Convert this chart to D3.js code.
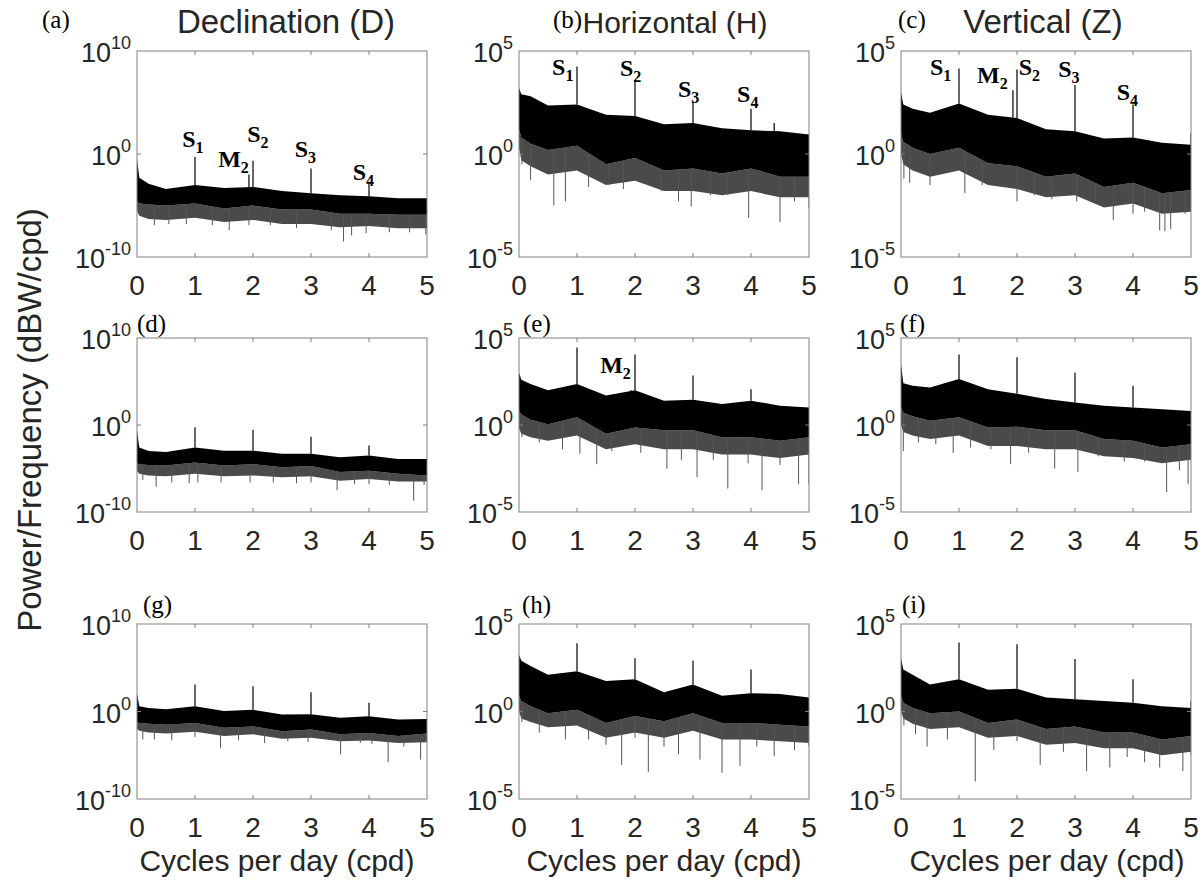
<!DOCTYPE html>
<html>
<head>
<meta charset="utf-8">
<script src="https://cdn.jsdelivr.net/npm/d3@7"></script>
<style>
  body { margin: 0; background: #fff; }
  text { font-family: "Liberation Sans", Arial, sans-serif; fill: #262626; }
  .serif { font-family: "Liberation Serif", "Times New Roman", serif; fill: #000; }
</style>
</head>
<body>
<svg id="fig" width="1203" height="883"></svg>
<script>
const freq = [0, 0.04, 0.2, 0.5, 1, 1.5, 2, 2.5, 3, 3.5, 4, 4.5, 5];

// all power values below are log10(power)
// (a) D, row 1
const topA    = [-0.5, -2.3, -2.9, -3.4, -3.0, -3.3, -3.2, -3.6, -3.8, -4.0, -4.1, -4.3, -4.3];
const lowA    = [-4.6, -4.8, -4.9, -5.0, -4.8, -5.3, -5.0, -5.4, -5.4, -5.8, -5.8, -5.9, -5.9];
const fringeA = [-5.5, -6.0, -6.3, -6.4, -6.2, -6.6, -6.4, -6.8, -6.8, -7.1, -7.0, -7.2, -7.2];
const peaksA  = [[1, -0.3], [1.93, -2.0], [2, -0.65], [3, -1.4], [4, -2.7]];
const dipsA   = [[0.3, -6.9], [0.55, -6.8], [0.85, -6.8], [1.3, -6.9], [1.59, -7.4], [1.93, -6.9], [2.3, -6.9],
                 [2.75, -7.2], [3.35, -7.4], [3.56, -8.5], [3.7, -7.9], [3.95, -7.7], [4.35, -7.6], [4.7, -7.6], [4.98, -7.8]];
// (b) H, row 1
const topB    = [3.2, 2.9, 2.8, 2.35, 2.4, 1.9, 1.85, 1.45, 1.5, 1.25, 1.15, 1.1, 0.95];
const lowB    = [1.2, 0.8, 0.5, 0.2, 0.4, -0.5, -0.2, -0.8, -0.7, -0.95, -0.7, -1.1, -1.1];
const fringeB = [0.3, -0.3, -0.6, -1.0, -0.8, -1.5, -1.3, -1.8, -1.8, -2.0, -1.8, -2.1, -2.1];
const peaksB  = [[1, 4.25], [2, 3.6], [3, 2.55], [4, 2.2], [4.4, 1.5]];
const dipsB   = [[0.05, -0.5], [0.2, -1.25], [0.6, -2.5], [0.8, -2.3], [1.2, -1.6], [1.55, -1.5], [1.8, -1.7], [2.45, -1.8],
                 [2.75, -2.3], [2.97, -2.55], [3.3, -2.0], [3.6, -2.0], [3.96, -3.1], [4.5, -3.3], [4.75, -2.3], [5.0, -2.6]];
// (c) Z, row 1
const topC    = [3.0, 2.4, 2.2, 2.0, 2.45, 1.9, 1.75, 1.2, 1.1, 0.75, 0.8, 0.55, 0.45];
const lowC    = [1.0, 0.6, 0.3, 0.0, 0.3, -0.45, -0.6, -1.1, -0.95, -1.6, -1.4, -1.9, -1.75];
const fringeC = [0.0, -0.5, -0.8, -1.1, -0.8, -1.5, -1.7, -2.1, -2.0, -2.6, -2.4, -2.9, -2.8];
const peaksC  = [[1, 4.15], [1.93, 3.1], [2, 4.1], [3, 3.35], [4, 2.4], [5, 1.0]];
const dipsC   = [[0.05, -1.2], [0.15, -1.4], [0.5, -1.5], [1.1, -1.9], [1.4, -1.5], [2.0, -2.3], [2.3, -2.0], [2.6, -2.2],
                 [3.03, -2.3], [3.35, -2.4], [3.66, -3.2], [4.0, -2.9], [4.2, -2.8], [4.46, -3.7], [4.55, -3.75], [4.65, -3.65], [4.9, -2.9]];
// (d) D, row 2
const topD    = [-0.65, -2.6, -3.0, -3.1, -2.6, -2.95, -2.95, -3.3, -3.3, -3.7, -3.5, -3.9, -3.9];
const lowD    = [-4.4, -4.5, -4.6, -4.65, -4.3, -4.65, -4.5, -4.85, -4.7, -5.4, -5.25, -5.6, -5.8];
const fringeD = [-5.3, -5.6, -5.8, -5.9, -5.6, -5.9, -5.8, -6.0, -5.9, -6.4, -6.2, -6.5, -6.5];
const peaksD  = [[1, -0.25], [2, -0.55], [3, -1.35], [4, -2.35]];
const dipsD   = [[0.1, -6.3], [0.33, -7.1], [0.6, -6.6], [0.9, -6.7], [1.05, -6.6], [1.45, -6.6], [1.95, -6.6], [2.35, -6.6],
                 [2.75, -6.7], [3.0, -6.6], [3.45, -7.5], [3.75, -6.8], [4.0, -6.8], [4.35, -6.9], [4.77, -8.7], [4.95, -6.9]];
// (e) H, row 2
const topE    = [3.0, 2.6, 2.35, 2.0, 2.35, 1.7, 2.0, 1.4, 1.45, 1.2, 1.4, 1.1, 1.0];
const lowE    = [0.8, 0.6, 0.3, 0.05, 0.45, -0.5, -0.15, -0.3, -0.3, -0.7, -0.7, -0.9, -0.7];
const fringeE = [-0.2, -0.5, -0.7, -0.9, -0.6, -1.4, -1.1, -1.4, -1.4, -1.7, -1.7, -1.9, -1.7];
const peaksE  = [[1, 4.45], [1.93, 2.0], [2, 4.05], [3, 2.85], [4, 2.05]];
const dipsE   = [[0.05, -0.7], [0.35, -1.0], [0.75, -1.4], [1.05, -1.65], [1.34, -2.25], [1.6, -1.5], [2.1, -1.6], [2.55, -2.5],
                 [2.8, -2.0], [3.07, -3.0], [3.35, -2.0], [3.6, -3.65], [3.95, -2.2], [4.19, -3.75], [4.5, -2.3], [4.82, -3.4], [5.0, -3.4]];
// (f) Z, row 2
const topF    = [3.5, 2.4, 2.25, 2.15, 2.65, 2.05, 1.8, 1.5, 1.3, 1.1, 1.0, 0.9, 0.8];
const lowF    = [1.0, 0.7, 0.5, 0.25, 0.45, -0.15, -0.1, -0.3, -0.3, -0.8, -0.9, -1.3, -1.1];
const fringeF = [0.0, -0.4, -0.6, -0.8, -0.6, -1.2, -1.2, -1.4, -1.4, -1.8, -1.9, -2.2, -2.0];
const peaksF  = [[1, 4.05], [2, 3.9], [3, 3.0], [4, 2.25]];
const dipsF   = [[0.04, -1.5], [0.3, -1.0], [0.6, -1.1], [0.9, -1.6], [1.2, -1.3], [1.55, -1.4], [1.89, -2.25], [2.2, -1.6],
                 [2.65, -2.5], [3.05, -2.7], [3.4, -1.8], [3.85, -2.1], [4.2, -2.1], [4.58, -3.85], [4.8, -2.6], [4.95, -3.4]];
// (g) D, row 3
const topG    = [2.1, 0.6, 0.4, 0.25, 0.6, 0.05, 0.2, -0.35, -0.3, -0.7, -0.55, -0.9, -0.85];
const lowG    = [-1.2, -1.3, -1.4, -1.5, -1.3, -1.85, -1.7, -2.25, -2.05, -2.6, -2.45, -2.8, -2.5];
const fringeG = [-2.0, -2.2, -2.4, -2.5, -2.3, -2.8, -2.6, -3.1, -3.0, -3.4, -3.3, -3.6, -3.5];
const peaksG  = [[1, 3.1], [2, 2.9], [3, 2.2], [4, 1.0]];
const dipsG   = [[0.1, -3.2], [0.3, -3.2], [0.6, -3.3], [1.0, -2.9], [1.44, -4.15], [1.75, -3.3], [2.2, -3.6], [2.6, -3.4],
                 [2.95, -3.5], [3.51, -4.9], [3.85, -3.6], [4.05, -3.7], [4.33, -5.8], [4.6, -4.0], [4.89, -5.5]];
// (h) H, row 3
const topH    = [3.25, 2.9, 2.6, 2.1, 2.3, 1.75, 1.85, 1.1, 1.55, 0.9, 1.05, 1.0, 0.8];
const lowH    = [0.9, 0.6, 0.3, -0.1, 0.1, -0.65, -0.25, -0.55, -0.1, -0.65, -0.65, -0.75, -0.85];
const fringeH = [0.0, -0.4, -0.6, -0.9, -0.8, -1.5, -1.2, -1.5, -1.1, -1.6, -1.6, -1.7, -1.8];
const peaksH  = [[1, 3.9], [2, 3.05], [3, 2.9], [4, 2.4]];
const dipsH   = [[0.05, -0.6], [0.35, -1.2], [0.8, -1.6], [1.2, -1.6], [1.5, -1.9], [1.77, -3.05], [2.0, -1.5], [2.23, -3.45],
                 [2.5, -2.0], [2.75, -2.45], [3.12, -2.75], [3.5, -3.5], [3.81, -3.1], [4.1, -2.0], [4.4, -2.55], [4.75, -2.2], [5.0, -2.0]];
// (i) Z, row 3
const topI    = [3.05, 2.4, 2.1, 1.55, 1.85, 1.25, 1.3, 0.8, 0.7, 0.6, 0.5, 0.3, 0.2];
const lowI    = [0.9, 0.5, 0.2, -0.1, 0.0, -0.65, -0.45, -1.0, -0.85, -1.2, -1.2, -1.6, -1.4];
const fringeI = [0.0, -0.4, -0.7, -1.0, -0.9, -1.5, -1.4, -1.9, -1.8, -2.1, -2.1, -2.5, -2.3];
const peaksI  = [[1, 3.95], [2, 3.85], [3, 3.0], [4, 1.85], [5, 0.6]];
const dipsI   = [[0.05, -0.8], [0.25, -1.3], [0.45, -2.0], [0.8, -1.6], [1.28, -4.0], [1.6, -2.2], [2.0, -1.7], [2.4, -3.05],
                 [2.8, -2.3], [3.2, -3.4], [3.6, -3.2], [3.9, -2.6], [4.2, -2.9], [4.46, -3.2], [4.86, -3.4], [5.0, -2.5]];

// tidal line labels: [name, subscript, cpd, log10 power] (text position)
const notesA = [['S', '1', 0.78, 0.68], ['M', '2', 1.40, -1.26], ['S', '2', 1.90, 1.17], ['S', '3', 2.72, -0.29], ['S', '4', 3.72, -2.52]];
const notesB = [['S', '1', 0.57, 3.83], ['S', '2', 1.74, 3.79], ['S', '3', 2.74, 2.77], ['S', '4', 3.76, 2.52]];
const notesC = [['S', '1', 0.50, 3.83], ['M', '2', 1.31, 3.45], ['S', '2', 2.03, 3.83], ['S', '3', 2.71, 3.74], ['S', '4', 3.72, 2.62]];
const notesE = [['M', '2', 1.40, 2.99]];

const columnTitles = ['Declination (D)', 'Horizontal (H)', 'Vertical (Z)'];
const xTicks = [0, 1, 2, 3, 4, 5];
const yExtent = [[-10, 10], [-5, 5], [-5, 5]];   // log10 limits per column

// layout
const colX = [[137, 427], [519, 809], [901, 1191]];
const rowY = [[51, 257], [338, 512], [624, 799]];
const titleX = [286, 675, 1043];
const titleSize = [33, 30, 33];
const labelPos = [[42, 28], [553, 28], [898, 28], [137, 332], [523, 332], [900, 332], [143, 613], [522, 613], [902, 613]];

const panels = [
  { name: '(a)', col: 0, row: 0, top: topA, low: lowA, fringe: fringeA, peaks: peaksA, dips: dipsA, notes: notesA },
  { name: '(b)', col: 1, row: 0, top: topB, low: lowB, fringe: fringeB, peaks: peaksB, dips: dipsB, notes: notesB },
  { name: '(c)', col: 2, row: 0, top: topC, low: lowC, fringe: fringeC, peaks: peaksC, dips: dipsC, notes: notesC },
  { name: '(d)', col: 0, row: 1, top: topD, low: lowD, fringe: fringeD, peaks: peaksD, dips: dipsD, notes: [] },
  { name: '(e)', col: 1, row: 1, top: topE, low: lowE, fringe: fringeE, peaks: peaksE, dips: dipsE, notes: notesE },
  { name: '(f)', col: 2, row: 1, top: topF, low: lowF, fringe: fringeF, peaks: peaksF, dips: dipsF, notes: [] },
  { name: '(g)', col: 0, row: 2, top: topG, low: lowG, fringe: fringeG, peaks: peaksG, dips: dipsG, notes: [] },
  { name: '(h)', col: 1, row: 2, top: topH, low: lowH, fringe: fringeH, peaks: peaksH, dips: dipsH, notes: [] },
  { name: '(i)', col: 2, row: 2, top: topI, low: lowI, fringe: fringeI, peaks: peaksI, dips: dipsI, notes: [] }
];

const svg = d3.select('#fig');
const defs = svg.append('defs');

const pow = v => Math.pow(10, v);

panels.forEach((p, k) => {
  const [x0, x1] = colX[p.col];
  const [y0, y1] = rowY[p.row];
  const [lo, hi] = yExtent[p.col];

  const x = d3.scaleLinear().domain([0, 5]).range([x0, x1]);
  const y = d3.scaleLog().domain([pow(lo), pow(hi)]).range([y1, y0]);
  const topAt = d3.scaleLinear().domain(freq).range(p.top);
  const lowAt = d3.scaleLinear().domain(freq).range(p.low);

  defs.append('clipPath').attr('id', 'clip' + k)
    .append('rect').attr('x', x0).attr('y', y0).attr('width', x1 - x0).attr('height', y1 - y0);

  const g = svg.append('g');
  const plot = g.append('g').attr('clip-path', `url(#clip${k})`);

  // grey fringe below the dense band
  plot.append('path')
    .datum(freq)
    .attr('fill', '#4a4a4a')
    .attr('d', d3.area()
      .x(d => x(d))
      .y0((d, i) => y(pow(p.fringe[i])))
      .y1((d, i) => y(pow(p.low[i]))));

  // dips reaching further down
  plot.selectAll('.dip').data(p.dips).enter().append('line')
    .attr('x1', d => x(d[0])).attr('x2', d => x(d[0]))
    .attr('y1', d => y(pow(lowAt(d[0]))))
    .attr('y2', d => y(pow(d[1])))
    .attr('stroke', '#555').attr('stroke-width', 1);

  // dense black band
  plot.append('path')
    .datum(freq)
    .attr('fill', '#000')
    .attr('d', d3.area()
      .x(d => x(d))
      .y0((d, i) => y(pow(p.low[i])))
      .y1((d, i) => y(pow(p.top[i]))));

  // spectral lines
  plot.selectAll('.peak').data(p.peaks).enter().append('line')
    .attr('x1', d => x(d[0])).attr('x2', d => x(d[0]))
    .attr('y1', d => y(pow(topAt(d[0]))))
    .attr('y2', d => y(pow(d[1])))
    .attr('stroke', '#000').attr('stroke-width', 1.2);

  // box and inward ticks
  g.append('rect')
    .attr('x', x0).attr('y', y0).attr('width', x1 - x0).attr('height', y1 - y0)
    .attr('fill', 'none').attr('stroke', '#808080').attr('stroke-width', 1);
  xTicks.slice(1, -1).forEach(t => {
    g.append('line').attr('x1', x(t)).attr('x2', x(t)).attr('y1', y1).attr('y2', y1 - 4).attr('stroke', '#808080');
    g.append('line').attr('x1', x(t)).attr('x2', x(t)).attr('y1', y0).attr('y2', y0 + 4).attr('stroke', '#808080');
  });
  g.append('line').attr('x1', x0).attr('x2', x0 + 4).attr('y1', y(1)).attr('y2', y(1)).attr('stroke', '#808080');
  g.append('line').attr('x1', x1).attr('x2', x1 - 4).attr('y1', y(1)).attr('y2', y(1)).attr('stroke', '#808080');

  // x tick labels
  g.selectAll('.xt').data(xTicks).enter().append('text')
    .attr('x', d => x(d)).attr('y', y1 + 38)
    .attr('text-anchor', 'middle').attr('font-size', 28)
    .text(d => d);

  // y tick labels 10^n
  [lo, 0, hi].forEach(e => {
    const t = g.append('text')
      .attr('x', x0 - 6).attr('y', y(pow(e)) + 11)
      .attr('text-anchor', 'end').attr('font-size', 27);
    t.append('tspan').text('10');
    t.append('tspan').attr('dy', -13).attr('font-size', 18).text(e);
  });

  // tidal constituent labels
  p.notes.forEach(n => {
    const t = g.append('text').attr('class', 'serif')
      .attr('x', x(n[2])).attr('y', y(pow(n[3])))
      .attr('font-size', 24).attr('font-weight', 'bold');
    t.append('tspan').text(n[0]);
    t.append('tspan').attr('dy', 6).attr('font-size', 16).text(n[1]);
  });

  // panel letter
  svg.append('text').attr('class', 'serif')
    .attr('x', labelPos[k][0]).attr('y', labelPos[k][1])
    .attr('font-size', 25)
    .text(p.name);
});

// column titles
columnTitles.forEach((t, i) => {
  svg.append('text')
    .attr('x', titleX[i]).attr('y', 33)
    .attr('text-anchor', 'middle').attr('font-size', titleSize[i])
    .attr('fill', '#000')
    .text(t);
});

// axis titles
[277, 664, 1047].forEach(cx => {
  svg.append('text')
    .attr('x', cx).attr('y', 871)
    .attr('text-anchor', 'middle').attr('font-size', 30)
    .text('Cycles per day (cpd)');
});
svg.append('text')
  .attr('transform', 'translate(41,420) rotate(-90)')
  .attr('text-anchor', 'middle').attr('font-size', 33)
  .text('Power/Frequency (dBW/cpd)');
</script>
</body>
</html>
